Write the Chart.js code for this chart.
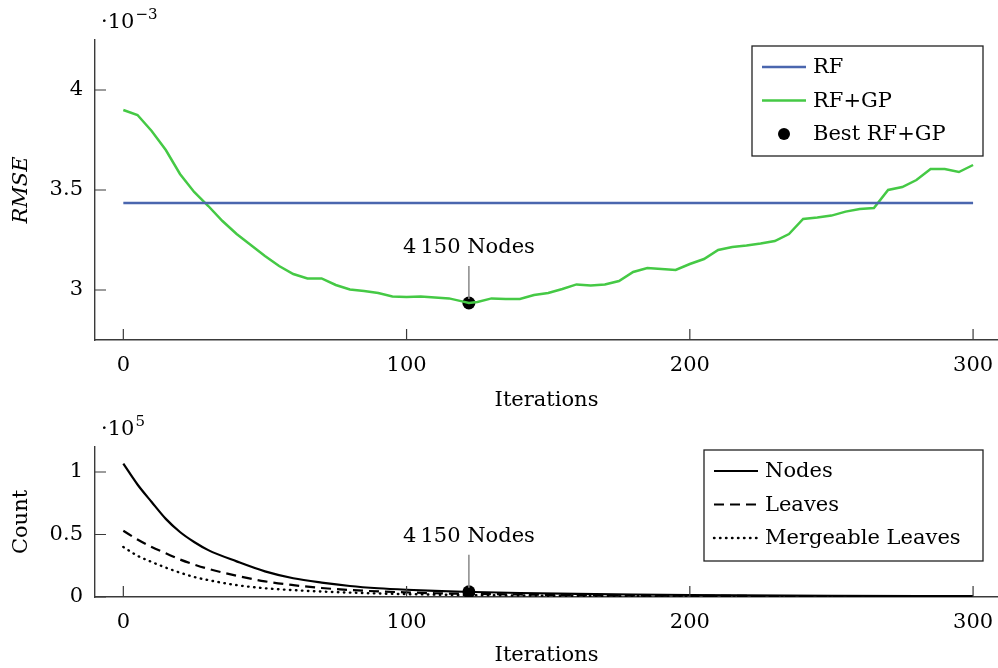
<!DOCTYPE html>
<html>
<head>
<meta charset="utf-8">
<script src="https://cdn.jsdelivr.net/npm/chart.js@4"></script>
<style>
  body { margin: 0; background: #fff; width: 998px; height: 668px; overflow: hidden; }
  .box { position: absolute; left: 0; width: 998px; }
  #top { top: 0; height: 415px; }
  #bottom { top: 415px; height: 253px; }
</style>
</head>
<body>
<div class="box" id="top"><canvas id="rmseChart"></canvas></div>
<div class="box" id="bottom"><canvas id="countChart"></canvas></div>
<script>
// RMSE panel (values in units of 1e-3)
const rmseIters = [0, 5, 10, 15, 20, 25, 30, 35, 40, 45, 50, 55, 60, 65, 70, 75, 80, 85, 90, 95,
    100, 105, 110, 115, 120, 122, 125, 130, 135, 140, 145, 150, 155, 160, 165, 170, 175, 180, 185, 190,
    195, 200, 205, 210, 215, 220, 225, 230, 235, 240, 245, 250, 255, 260, 265, 270, 275, 280, 285, 290,
    295, 300];
const rfGp = [3.900, 3.875, 3.795, 3.700, 3.580, 3.490, 3.420, 3.345, 3.280, 3.225, 3.170, 3.120, 3.080, 3.058, 3.058, 3.025, 3.003, 2.995, 2.985, 2.968,
    2.965, 2.967, 2.962, 2.958, 2.942, 2.935, 2.940, 2.958, 2.955, 2.955, 2.975, 2.985, 3.005, 3.028, 3.022, 3.028, 3.045, 3.090, 3.110, 3.105,
    3.100, 3.130, 3.155, 3.200, 3.215, 3.222, 3.232, 3.245, 3.280, 3.355, 3.362, 3.372, 3.392, 3.405, 3.410, 3.500, 3.515, 3.550, 3.605, 3.605,
    3.590, 3.625];
const rfValue = 3.435;
const rfRange = [0, 300];
const bestIter = 122;
const bestRmse = 2.935;
const rmseTicks = [3, 3.5, 4];

// Count panel (values in units of 1e5)
const countIters = [0, 5, 10, 15, 20, 25, 30, 40, 50, 60, 70, 80, 90, 100, 110, 120, 140, 160, 180, 200, 250, 300];
const nodes = [1.067, 0.900, 0.760, 0.625, 0.520, 0.440, 0.375, 0.285, 0.205, 0.150, 0.115, 0.088, 0.070, 0.058, 0.049, 0.042, 0.032, 0.025, 0.020, 0.016, 0.010, 0.007];
const leaves = [0.530, 0.460, 0.400, 0.350, 0.300, 0.260, 0.225, 0.170, 0.125, 0.095, 0.072, 0.056, 0.045, 0.037, 0.030, 0.026, 0.020, 0.015, 0.012, 0.010, 0.006, 0.004];
const mergeable = [0.400, 0.330, 0.280, 0.235, 0.195, 0.160, 0.135, 0.095, 0.070, 0.055, 0.043, 0.035, 0.028, 0.023, 0.019, 0.016, 0.012, 0.009, 0.007, 0.006, 0.004, 0.003];
const bestNodes = 0.0415;
const countTicks = [0, 0.5, 1];
const iterTicks = [0, 100, 200, 300];
const bestLabel = '4\u2009150 Nodes';

const FONT = 'DejaVu Serif';
const AXIS = '#3a3a3a';
const pts = (xs, ys) => xs.map((x, i) => ({ x, y: ys[i] }));

// inward tick marks, exponent label, annotation pin and legend box
const decor = {
    id: 'decor',
    afterDatasetsDraw(chart, args, o) {
        const { ctx, chartArea: a, scales: { x, y } } = chart;
        ctx.save();
        ctx.strokeStyle = AXIS;
        ctx.lineWidth = 1.2;
        ctx.beginPath();
        iterTicks.forEach(v => { const px = x.getPixelForValue(v); ctx.moveTo(px, a.bottom); ctx.lineTo(px, a.bottom - 11); });
        o.yTicks.forEach(v => { const py = y.getPixelForValue(v); ctx.moveTo(a.left, py); ctx.lineTo(a.left + 11, py); });
        ctx.stroke();

        // exponent
        ctx.fillStyle = '#000';
        ctx.textBaseline = 'alphabetic';
        ctx.textAlign = 'left';
        ctx.font = `21px ${FONT}`;
        const ex = a.left + 6, ey = a.top - 12;
        ctx.fillText('\u00b710', ex, ey);
        const w = ctx.measureText('\u00b710').width;
        ctx.font = `15px ${FONT}`;
        ctx.fillText(o.exp, ex + w + 1, ey - 9);

        // pin annotation
        const bx = x.getPixelForValue(bestIter), by = y.getPixelForValue(o.bestY);
        ctx.strokeStyle = '#888';
        ctx.lineWidth = 1.5;
        ctx.beginPath();
        ctx.moveTo(bx, by - 4);
        ctx.lineTo(bx, by - 37);
        ctx.stroke();
        ctx.font = `21px ${FONT}`;
        ctx.textAlign = 'center';
        ctx.textBaseline = 'middle';
        ctx.fillText(bestLabel, bx, by - 55);

        // legend
        const L = o.legend;
        ctx.fillStyle = '#fff';
        ctx.fillRect(L.x, L.y, L.w, L.h);
        ctx.strokeStyle = '#222';
        ctx.lineWidth = 1.3;
        ctx.strokeRect(L.x, L.y, L.w, L.h);
        ctx.textAlign = 'left';
        L.items.forEach((it, i) => {
            const cy = L.y + 21 + i * 33.5;
            const ds = chart.data.datasets[it.ds];
            if (it.dot) {
                ctx.fillStyle = '#000';
                ctx.beginPath();
                ctx.arc(L.x + 32, cy, 6, 0, Math.PI * 2);
                ctx.fill();
            } else {
                ctx.strokeStyle = ds.borderColor;
                ctx.lineWidth = ds.borderWidth;
                ctx.lineCap = ds.borderCapStyle || 'butt';
                ctx.setLineDash(ds.borderDash || []);
                ctx.beginPath();
                ctx.moveTo(L.x + 10, cy);
                ctx.lineTo(L.x + 54, cy);
                ctx.stroke();
                ctx.setLineDash([]);
            }
            ctx.fillStyle = '#000';
            ctx.fillText(ds.label, L.x + 61, cy + 1);
        });
        ctx.restore();
    }
};

function axes(yMin, yMax, yTickVals, yTitle, italic, xHeight) {
    return {
        x: {
            type: 'linear', min: -10, max: 308.8,
            afterBuildTicks: s => { s.ticks = iterTicks.map(v => ({ value: v })); },
            afterFit: s => { s.height = xHeight; s.paddingLeft = 0; s.paddingRight = 0; },
            grid: { display: false, drawTicks: false },
            border: { display: true, color: AXIS, width: 1.4 },
            ticks: { color: '#000', padding: 13, maxRotation: 0, font: { family: FONT, size: 21 }, callback: v => `${v}` },
            title: { display: true, text: 'Iterations', color: '#000', padding: 0, font: { family: FONT, size: 21 } }
        },
        y: {
            type: 'linear', min: yMin, max: yMax,
            afterBuildTicks: s => { s.ticks = yTickVals.map(v => ({ value: v })); },
            afterFit: s => { s.width = 95; s.paddingTop = 0; s.paddingBottom = 0; },
            grid: { display: false, drawTicks: false },
            border: { display: true, color: AXIS, width: 1.4 },
            ticks: { color: '#000', padding: 12, font: { family: FONT, size: 21 }, callback: v => `${v}` },
            title: { display: true, text: yTitle, color: '#000', padding: 9, font: { family: FONT, size: 21, style: italic ? 'italic' : 'normal' } }
        }
    };
}

new Chart(document.getElementById('rmseChart'), {
    type: 'line',
    data: {
        datasets: [
            { label: 'RF', data: rfRange.map(x => ({ x, y: rfValue })), borderColor: '#4a66ae', borderWidth: 2.5, pointRadius: 0 },
            { label: 'RF+GP', data: pts(rmseIters, rfGp), borderColor: '#45c945', borderWidth: 2.5, pointRadius: 0 },
            { label: 'Best RF+GP', data: [{ x: bestIter, y: bestRmse }], showLine: false, pointRadius: 6.5, pointBackgroundColor: '#000', pointBorderWidth: 0, borderColor: '#000' }
        ]
    },
    options: {
        responsive: true, maintainAspectRatio: false, animation: false,
        layout: { autoPadding: false, padding: { top: 40, right: 0, left: 0, bottom: 2 } },
        plugins: {
            legend: { display: false }, tooltip: { enabled: false },
            decor: { yTicks: rmseTicks, exp: '\u22123', bestY: bestRmse,
                legend: { x: 752, y: 46, w: 231, h: 110, items: [{ ds: 0 }, { ds: 1 }, { ds: 2, dot: true }] } }
        },
        scales: axes(2.75, 4.25, rmseTicks, 'RMSE', true, 73)
    },
    plugins: [decor]
});

new Chart(document.getElementById('countChart'), {
    type: 'line',
    data: {
        datasets: [
            { label: 'Nodes', data: pts(countIters, nodes), borderColor: '#000', borderWidth: 2.2, pointRadius: 0, cubicInterpolationMode: 'monotone' },
            { label: 'Leaves', data: pts(countIters, leaves), borderColor: '#000', borderWidth: 2.2, borderDash: [10, 6], pointRadius: 0, cubicInterpolationMode: 'monotone' },
            { label: 'Mergeable Leaves', data: pts(countIters, mergeable), borderColor: '#000', borderWidth: 2.4, borderDash: [0.5, 5.5], borderCapStyle: 'round', pointRadius: 0, cubicInterpolationMode: 'monotone' },
            { label: 'Best', data: [{ x: bestIter, y: bestNodes }], showLine: false, pointRadius: 6.5, pointBackgroundColor: '#000', pointBorderWidth: 0, borderColor: '#000' }
        ]
    },
    options: {
        responsive: true, maintainAspectRatio: false, animation: false,
        layout: { autoPadding: false, padding: { top: 32, right: 0, left: 0, bottom: 0 } },
        plugins: {
            legend: { display: false }, tooltip: { enabled: false },
            decor: { yTicks: countTicks, exp: '5', bestY: bestNodes,
                legend: { x: 704, y: 35, w: 279, h: 111, items: [{ ds: 0 }, { ds: 1 }, { ds: 2 }] } }
        },
        scales: axes(0, 1.2, countTicks, 'Count', false, 71)
    },
    plugins: [decor]
});
</script>
</body>
</html>
